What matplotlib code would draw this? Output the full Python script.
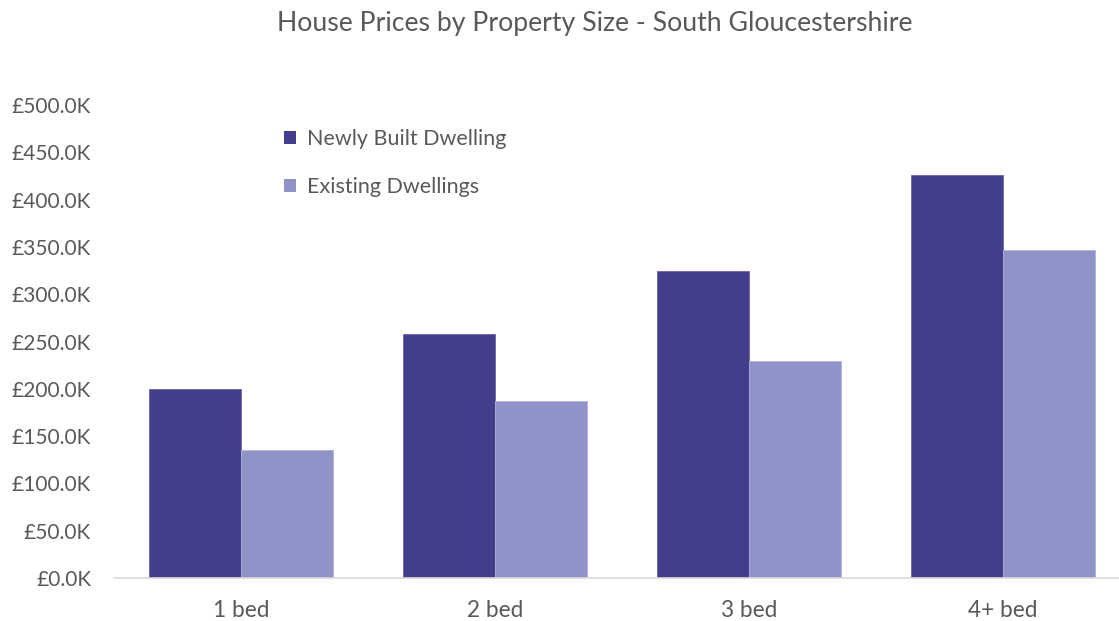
import matplotlib
matplotlib.use("Agg")
import matplotlib.pyplot as plt
from matplotlib.ticker import FuncFormatter
from matplotlib.patches import Patch

categories = ["1 bed", "2 bed", "3 bed", "4+ bed"]
newly_built = [199.5, 258, 324.3, 426]
existing = [135, 187, 229.7, 346.4]
series_names = ["Newly Built Dwelling", "Existing Dwellings"]
yticks = [0, 50, 100, 150, 200, 250, 300, 350, 400, 450, 500]

dark = "#433E8C"
light = "#8F93C7"
grey = "#595959"

plt.rcParams['font.family'] = ['Lato', 'DejaVu Sans']

W, H = 1119, 621
fig = plt.figure(figsize=(W/100, H/100), dpi=100)
left_px, right_px, top_px, bot_px = 114, 1130, 105, 578
ax = fig.add_axes([left_px/W, 1-bot_px/H, (right_px-left_px)/W, (bot_px-top_px)/H])

x = list(range(len(categories)))
bw = 0.362
ax.bar([i - bw/2 for i in x], newly_built, width=bw, color=dark, edgecolor="#6a66a8", linewidth=0.6)
ax.bar([i + bw/2 for i in x], existing, width=bw, color=light, edgecolor="#b0b3db", linewidth=0.6)

ax.set_xlim(-0.5, 3.5)
ax.set_ylim(0, 500)
ax.set_xticks(x)
ax.set_xticklabels(categories, fontsize=16.3, color=grey)
ax.set_yticks(yticks)
ax.yaxis.set_major_formatter(FuncFormatter(lambda v, p: "£{:.1f}K".format(v)))
ax.tick_params(axis='y', labelsize=15, colors=grey, length=0, pad=16.5)
ax.tick_params(axis='x', length=0, pad=16)
for s in ["top", "right", "left"]:
    ax.spines[s].set_visible(False)
ax.spines["bottom"].set_color("#D9D9D9")
ax.spines["bottom"].set_linewidth(1.2)

fig.text(595/W, 1-23/H, "House Prices by Property Size - South Gloucestershire",
         ha="center", va="center", fontsize=19.2, color=grey)

handles = [Patch(facecolor=dark), Patch(facecolor=light)]
leg = ax.legend(handles, series_names, loc="upper left",
                bbox_to_anchor=((265-left_px)/(right_px-left_px), 1 - (110-top_px)/(bot_px-top_px)),
                frameon=False, fontsize=15.5, labelcolor=grey,
                handlelength=0.55, handleheight=0.55, handletextpad=0.5, labelspacing=1.3)

fig.savefig("out.png", dpi=100)
